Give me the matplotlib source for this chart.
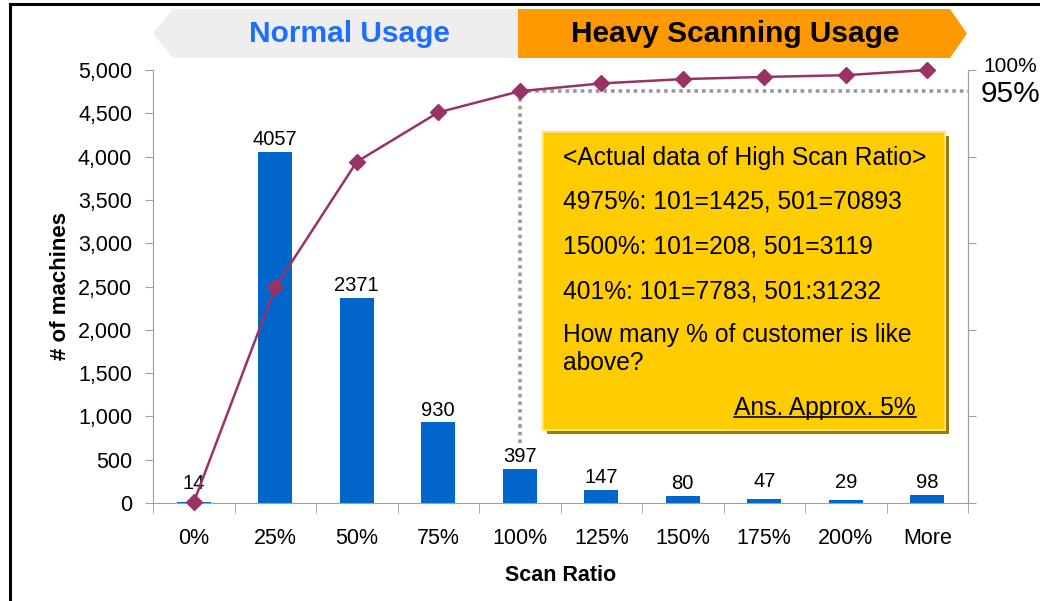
import matplotlib
matplotlib.use('Agg')
import matplotlib.pyplot as plt
from matplotlib.patches import Polygon, Rectangle
from matplotlib.lines import Line2D
import numpy as np

plt.rcParams['font.family'] = ['Liberation Sans', 'DejaVu Sans']

# ---------------- data ----------------
categories = ['0%', '25%', '50%', '75%', '100%', '125%', '150%', '175%', '200%', 'More']
machines = [14, 4057, 2371, 930, 397, 147, 80, 47, 29, 98]
cumulative_pct = [0.17, 49.8, 78.8, 90.2, 95.1, 96.9, 97.9, 98.4, 98.8, 100.0]
left_ticks = [0, 500, 1000, 1500, 2000, 2500, 3000, 3500, 4000, 4500, 5000]
right_ticks = [0, 20, 40, 60, 80, 100]
banner_left = 'Normal Usage'
banner_right = 'Heavy Scanning Usage'
box_lines = ['<Actual data of High Scan Ratio>',
             '4975%: 101=1425, 501=70893',
             '1500%: 101=208, 501=3119',
             '401%: 101=7783, 501:31232',
             'How many % of customer is like',
             'above?']
box_answer = 'Ans. Approx. 5%'
threshold_index = 4  # 100% category
threshold_label = '95%'

# ---------------- figure ----------------
W, H = 1040, 601
fig = plt.figure(figsize=(W / 100, H / 100), dpi=100)
fig.patch.set_facecolor('white')


def fx(x):
    return x / W


def fy(y):
    return 1 - y / H


GRAY = '#A0A0A0'
ax = fig.add_axes([fx(153), fy(503), (968 - 153) / W, (503 - 70) / H])
x = np.arange(len(categories))

ax.bar(x, machines, width=0.42, color='#0066CC', zorder=2)
for i, v in enumerate(machines):
    off = 6 if v < 50 else 2
    ax.annotate(str(v), (i, v), xytext=(0, off), textcoords='offset points',
                ha='center', va='bottom', fontsize=14.5)

ax.set_xlim(-0.5, len(categories) - 0.5)
ax.set_ylim(0, 5000)
ax.set_yticks(left_ticks)
ax.set_yticklabels([f'{t:,}' for t in left_ticks])
ax.set_xticks(x)
ax.set_xticklabels(categories)
ax.set_xticks(np.arange(-0.5, len(categories), 1), minor=True)
ax.tick_params(axis='x', which='major', length=0, pad=18, labelsize=15.5)
ax.tick_params(axis='x', which='minor', length=7, color=GRAY, direction='out')
ax.tick_params(axis='y', length=6, color=GRAY, direction='out', pad=9, labelsize=15.5)
for s in ['top']:
    ax.spines[s].set_visible(False)
for s in ['left', 'bottom', 'right']:
    ax.spines[s].set_color(GRAY)

ax.set_ylabel('# of machines', fontsize=16, fontweight='bold')
ax.yaxis.set_label_coords((71 - 153) / 815, 0.5)
ax.set_xlabel('Scan Ratio', fontsize=15.5, fontweight='bold')
ax.xaxis.set_label_coords(0.5, (503 - 565) / 433)

ax2 = ax.twinx()
ax2.set_ylim(0, 100)
ax2.set_yticks(right_ticks)
ax2.set_yticklabels([])
ax2.tick_params(axis='y', length=6, color=GRAY, direction='out')
for s in ['top', 'left', 'bottom']:
    ax2.spines[s].set_visible(False)
ax2.spines['right'].set_color(GRAY)

thr = cumulative_pct[threshold_index]
dot = dict(color='#999999', lw=2.6, ls=(0, (1, 1.1)), clip_on=False, zorder=3)
ax2.plot([threshold_index, threshold_index], [13.8, thr], **dot)
ax2.plot([threshold_index, len(categories) - 0.5], [thr, thr], **dot)

ax2.plot(x, cumulative_pct, color='#993366', lw=1.8, marker='D', ms=8,
         zorder=5, clip_on=False)

fig.text(fx(983), fy(66), f'{right_ticks[-1]}%', ha='left', va='center', fontsize=15)
fig.text(fx(981), fy(94), threshold_label, ha='left', va='center', fontsize=21.5)

# ---------------- frame lines ----------------
fig.add_artist(Line2D([fx(10), 1], [fy(3.5), fy(3.5)], color='black', lw=2.2))
fig.add_artist(Line2D([fx(10), fx(10)], [fy(3.5), 0], color='black', lw=2.2))

# ---------------- banner ----------------
gray_poly = [(173, 9), (518, 9), (518, 58), (173, 58), (153, 33.5)]
orange_poly = [(518, 9), (950, 9), (967, 33.5), (950, 58), (518, 58)]
fig.add_artist(Polygon([(fx(a), fy(b)) for a, b in gray_poly], closed=True,
                       facecolor='#EEEEEE', edgecolor='none', transform=fig.transFigure))
fig.add_artist(Polygon([(fx(a), fy(b)) for a, b in orange_poly], closed=True,
                       facecolor='#FF9900', edgecolor='none', transform=fig.transFigure))
fig.text(fx(349), fy(34), banner_left, ha='center', va='center', fontsize=21.5,
         fontweight='bold', color='#1E6FFF')
fig.text(fx(735), fy(34), banner_right, ha='center', va='center', fontsize=21.5,
         fontweight='bold', color='black')

# ---------------- annotation box ----------------
fig.add_artist(Rectangle((fx(547), fy(434)), (945 - 543) / W, (430 - 132) / H,
                         facecolor='#9C7C00', edgecolor='none', transform=fig.transFigure))
fig.add_artist(Rectangle((fx(543), fy(430)), (945 - 543) / W, (430 - 132) / H,
                         facecolor='#FFCC00', edgecolor='#FFE070', lw=1.5,
                         transform=fig.transFigure))
line_y = [158, 202, 246, 291, 335, 363]
for t, yy in zip(box_lines, line_y):
    fig.text(fx(563), fy(yy), t, ha='left', va='center', fontsize=17.7)
ans = fig.text(fx(916), fy(408), box_answer, ha='right', va='center', fontsize=17.7)
fig.canvas.draw()
bb = ans.get_window_extent()
fig.add_artist(Line2D([bb.x0 / W, bb.x1 / W], [(bb.y0 + 3) / H, (bb.y0 + 3) / H],
                      color='black', lw=1.2))

fig.savefig('out.png', dpi=100)
